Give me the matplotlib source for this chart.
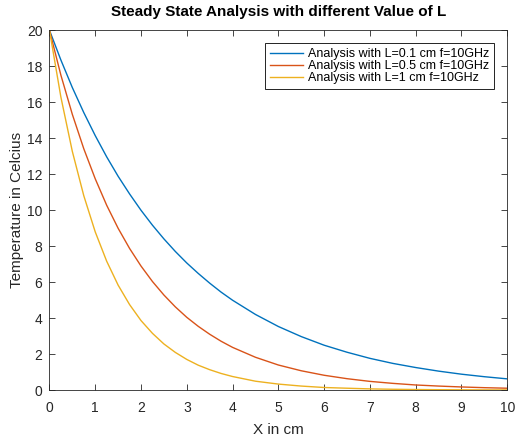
import matplotlib
matplotlib.use("Agg")
import matplotlib.pyplot as plt

x = [0, 0.25, 0.5, 0.75, 1, 1.25, 1.5, 1.75, 2, 2.25, 2.5, 2.75, 3, 3.25,
     3.5, 3.75, 4, 4.5, 5, 5.5, 6, 6.5, 7, 7.5, 8, 8.5, 9, 9.5, 10]
temp_L01 = [20, 18.34, 16.81, 15.42, 14.14, 12.96, 11.88, 10.90, 9.99, 9.16,
            8.40, 7.70, 7.06, 6.48, 5.94, 5.44, 4.99, 4.20, 3.53, 2.97,
            2.49, 2.10, 1.76, 1.48, 1.25, 1.05, 0.88, 0.74, 0.62]
temp_L05 = [20, 17.50, 15.32, 13.41, 11.74, 10.27, 8.99, 7.87, 6.89, 6.03,
            5.28, 4.62, 4.04, 3.54, 3.10, 2.71, 2.37, 1.82, 1.39, 1.07,
            0.82, 0.63, 0.48, 0.37, 0.28, 0.22, 0.17, 0.13, 0.10]
temp_L1 = [20, 16.28, 13.26, 10.80, 8.79, 7.16, 5.83, 4.75, 3.86, 3.15,
           2.56, 2.09, 1.70, 1.38, 1.13, 0.92, 0.75, 0.49, 0.33, 0.22,
           0.14, 0.10, 0.063, 0.042, 0.028, 0.018, 0.012, 0.008, 0.005]
labels = ["Analysis with L=0.1 cm f=10GHz",
          "Analysis with L=0.5 cm f=10GHz",
          "Analysis with L=1 cm f=10GHz"]
colors = ["#0072BD", "#D95319", "#EDB120"]

plt.rcParams['font.family'] = ['Liberation Sans', 'DejaVu Sans']

fig = plt.figure(figsize=(5.15, 4.37), dpi=100)
ax = fig.add_axes([0.096, 0.1075, 0.889, 0.8235])
for ys, lab, c in zip([temp_L01, temp_L05, temp_L1], labels, colors):
    ax.plot(x, ys, color=c, linewidth=1.0, label=lab)

ax.set_xlim(0, 10)
ax.set_ylim(0, 20)
ax.set_xticks(range(0, 11))
ax.set_yticks(range(0, 21, 2))
gray = (0.15, 0.15, 0.15)
ax.tick_params(direction='in', top=True, right=True, length=4, width=0.6,
               labelsize=10, colors=gray, pad=5)
ax.tick_params(axis='x', pad=8)
for s in ax.spines.values():
    s.set_color(gray)
    s.set_linewidth(0.6)
ax.set_xlabel("X in cm", fontsize=11, color=gray, labelpad=6)
ax.set_ylabel("Temperature in Celcius", fontsize=11, color=gray, labelpad=2)
ax.set_title("Steady State Analysis with different Value of L", fontsize=11,
             fontweight='bold', pad=10)
leg = ax.legend(loc='upper right', fontsize=9, frameon=True, fancybox=False,
                edgecolor='black', framealpha=1, borderpad=0.4,
                labelspacing=0.0, handlelength=2.6, handletextpad=0.4,
                borderaxespad=1.05)
leg.get_frame().set_linewidth(0.6)

fig.savefig("out.png", dpi=100)
